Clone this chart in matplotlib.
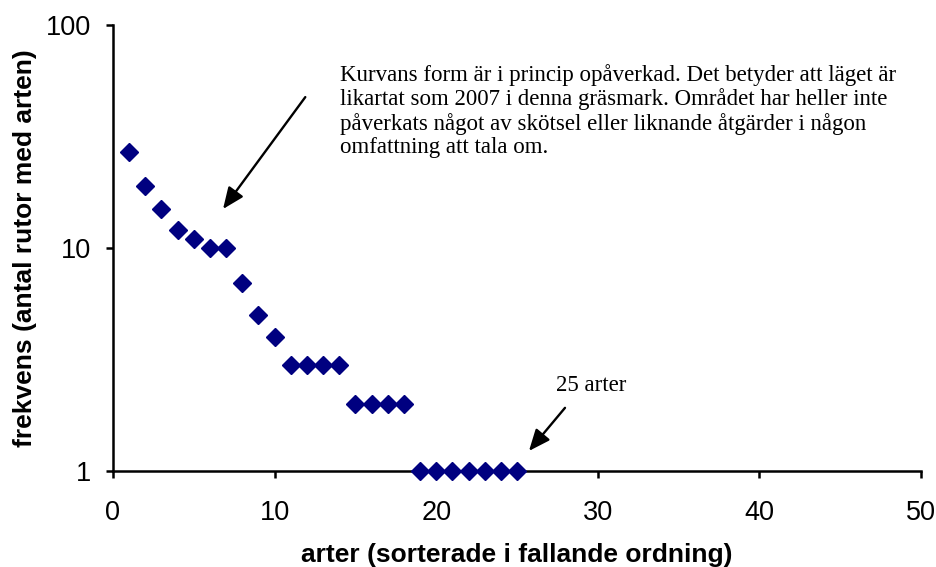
import numpy as np
import matplotlib.pyplot as plt
from matplotlib.ticker import FixedLocator, NullLocator

# species rank and number of plots where each species occurs
rank = np.arange(1, 26)
freq = [27, 19, 15, 12, 11, 10, 10, 7, 5, 4,
        3, 3, 3, 3, 2, 2, 2, 2,
        1, 1, 1, 1, 1, 1, 1]

x_ticks = [0, 10, 20, 30, 40, 50]
y_ticks = [1, 10, 100]

note = ("Kurvans form är i princip opåverkad. Det betyder att läget är\n"
        "likartat som 2007 i denna gräsmark. Området har heller inte\n"
        "påverkats något av skötsel eller liknande åtgärder i någon\n"
        "omfattning att tala om.")

fig = plt.figure(figsize=(9.36, 5.67), dpi=100)
ax = fig.add_axes([0.1207, 0.1693, 0.8633, 0.7866])

ax.plot(rank, freq, linestyle="none", marker="D", markersize=9,
        color="#000080", clip_on=False, zorder=3)

ax.set_yscale("log")
ax.set_xlim(0, 50)
ax.set_ylim(1, 100)
ax.xaxis.set_major_locator(FixedLocator(x_ticks))
ax.yaxis.set_major_locator(FixedLocator(y_ticks))
ax.yaxis.set_minor_locator(NullLocator())
ax.set_yticklabels([str(v) for v in y_ticks])

for side in ["top", "right"]:
    ax.spines[side].set_visible(False)
for side in ["left", "bottom"]:
    ax.spines[side].set_linewidth(1.8)
ax.tick_params(direction="out", length=5, width=1.8, labelsize=19.5)
ax.tick_params(axis="x", pad=16)
ax.tick_params(axis="y", pad=11)
for lbl in ax.get_xticklabels() + ax.get_yticklabels():
    lbl.set_fontfamily("Liberation Sans")

ax.set_xlabel("arter (sorterade i fallande ordning)", fontsize=19,
              fontweight="bold", family="Liberation Sans", labelpad=12)
ax.set_ylabel("frekvens (antal rutor med arten)", fontsize=19,
              fontweight="bold", family="Liberation Sans", labelpad=6)

ax.text(14.05, 67, note, fontsize=16.5, family="Liberation Serif",
        va="top", ha="left", linespacing=1.15)
ax.annotate("", xy=(6.81, 14.96), xytext=(11.9, 47.5),
            arrowprops=dict(arrowstyle="-|>,head_length=1.3,head_width=0.55",
                            color="black", lw=1.7, shrinkA=0, shrinkB=0))

ax.text(29.6, 2.43, "25 arter", fontsize=16.5, family="Liberation Serif",
        va="center", ha="center")
ax.annotate("", xy=(25.74, 1.23), xytext=(27.97, 1.92),
            arrowprops=dict(arrowstyle="-|>,head_length=1.3,head_width=0.55",
                            color="black", lw=1.7, shrinkA=0, shrinkB=0))

fig.savefig("out.png", dpi=100)
